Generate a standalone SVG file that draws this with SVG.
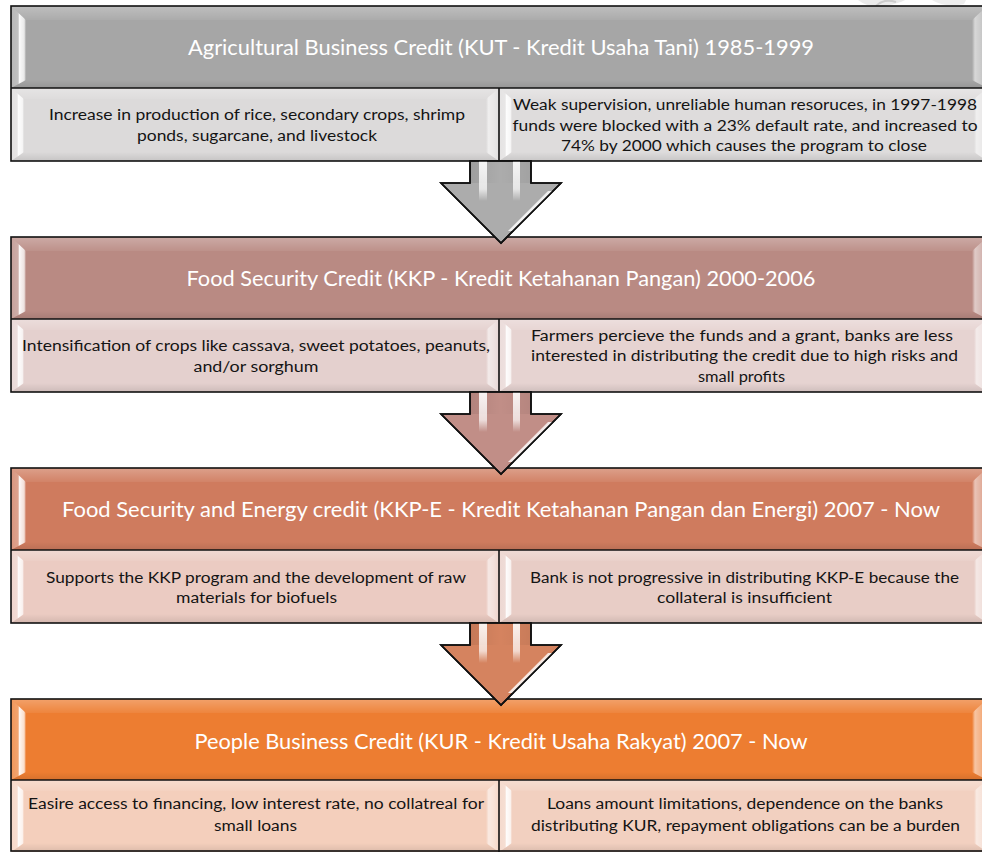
<svg xmlns="http://www.w3.org/2000/svg" xmlns:xlink="http://www.w3.org/1999/xlink" width="982" height="852" viewBox="0 0 982 852">
  <style>
    .edge { fill: none; stroke: #111; stroke-width: 1.6; }
    .hdr { font-family: Lato, "Open Sans", "Liberation Sans", sans-serif; font-size: 20.5px; fill: #ffffff; text-anchor: middle; }
    .sub { font-family: Lato, "Open Sans", "Liberation Sans", sans-serif; font-size: 15.5px; fill: #141414; text-anchor: middle; }
    .bl { fill: url(#bvL); }
    .br { fill: url(#bvR); }
    .bt { fill: url(#bvT); }
    .bb { fill: url(#bvB); }
    .arrow { stroke: #111; stroke-width: 1.6; stroke-linejoin: miter; }
    .stripe { fill: url(#stripeFade); }
    .gloss { fill: url(#glossFade); }
  </style>
  <defs>
    <!-- bevel strips: inner edge at 0, outer edge at 1 for the side strips -->
    <linearGradient id="bvL" x1="1" y1="0" x2="0" y2="0">
      <stop offset="0" stop-color="#fff" stop-opacity="0"/>
      <stop offset="0.12" stop-color="#fff" stop-opacity="0.75"/>
      <stop offset="0.45" stop-color="#fff" stop-opacity="0.95"/>
      <stop offset="0.52" stop-color="#fff" stop-opacity="0.3"/>
      <stop offset="1" stop-color="#fff" stop-opacity="0.2"/>
    </linearGradient>
    <linearGradient id="bvR" x1="0" y1="0" x2="1" y2="0">
      <stop offset="0" stop-color="#fff" stop-opacity="0"/>
      <stop offset="0.2" stop-color="#fff" stop-opacity="0.55"/>
      <stop offset="0.6" stop-color="#fff" stop-opacity="0.4"/>
      <stop offset="1" stop-color="#fff" stop-opacity="0.15"/>
    </linearGradient>
    <linearGradient id="bvT" x1="0" y1="0" x2="0" y2="1">
      <stop offset="0" stop-color="#fff" stop-opacity="0.28"/>
      <stop offset="1" stop-color="#fff" stop-opacity="0.06"/>
    </linearGradient>
    <linearGradient id="bvB" x1="0" y1="0" x2="0" y2="1">
      <stop offset="0" stop-color="#000" stop-opacity="0"/>
      <stop offset="1" stop-color="#000" stop-opacity="0.1"/>
    </linearGradient>
    <linearGradient id="stripeFade" x1="0" y1="0" x2="0" y2="1">
      <stop offset="0" stop-color="#fff" stop-opacity="0.9"/>
      <stop offset="0.7" stop-color="#fff" stop-opacity="0.7"/>
      <stop offset="1" stop-color="#fff" stop-opacity="0"/>
    </linearGradient>
    <linearGradient id="glossFade" x1="0" y1="0" x2="1" y2="1">
      <stop offset="0" stop-color="#fff" stop-opacity="0"/>
      <stop offset="0.5" stop-color="#fff" stop-opacity="0.85"/>
      <stop offset="1" stop-color="#fff" stop-opacity="0"/>
    </linearGradient>
    <linearGradient id="shaftShade" x1="0" y1="0" x2="1" y2="0">
      <stop offset="0" stop-color="#000" stop-opacity="0.08"/>
      <stop offset="0.5" stop-color="#000" stop-opacity="0"/>
      <stop offset="1" stop-color="#000" stop-opacity="0.06"/>
    </linearGradient>
    <!-- block arrow, drawn from y=0 at the bottom edge of the block above -->
    <path id="arrowShape" d="M470,0 L531,0 L531,22 L561,22 L501,82 L441,22 L470,22 Z"/>
    <g id="arrowShine">
      <rect x="470" y="0" width="61" height="22" fill="url(#shaftShade)"/>
      <rect x="479" y="0" width="8" height="40" class="stripe"/>
      <rect x="513" y="0" width="7" height="40" class="stripe"/>
      <polygon points="548,30 553,30 514,70 508,70" class="gloss"/>
    </g>
  </defs>

  <rect width="982" height="852" fill="#ffffff"/>

  <!-- faint logo behind the top edge -->
  <g opacity="0.5">
    <path d="M858,0 Q870,9 885,6 Q900,3 905,0 Z" fill="#d6d6d6"/>
    <path d="M876,6 Q884,-2 896,2" fill="none" stroke="#9a9a9a" stroke-width="2"/>
    <path d="M932,0 Q945,8 964,4 L966,0 Z" fill="#dcdcdc"/>
  </g>

  <!-- Block 1 : KUT -->
  <g id="kut">
    <rect x="11" y="6" width="976" height="82" fill="#a6a6a6"/>
    <rect x="11" y="88" width="488" height="73" fill="#dcdada"/>
    <rect x="499" y="88" width="488" height="73" fill="#dedcdc"/>
    <g>
      <polygon class="bt" points="11,6 987,6 972,20 26,20"/>
      <polygon class="bb" points="11,88 26,80 972,80 987,88"/>
      <polygon class="bl" points="11,6 26,20 26,80 11,88"/>
      <polygon class="br" points="987,6 987,88 972,80 972,20"/>
      <polygon class="bt" points="11,88 499,88 486,99 24,99"/>
      <polygon class="bb" points="11,161 24,152 486,152 499,161"/>
      <polygon class="bl" points="11,88 24,99 24,152 11,161"/>
      <polygon class="br" points="499,88 499,161 486,152 486,99"/>
      <polygon class="bt" points="499,88 987,88 974,99 512,99"/>
      <polygon class="bb" points="499,161 512,152 974,152 987,161"/>
      <polygon class="bl" points="499,88 512,99 512,152 499,161"/>
      <polygon class="br" points="987,88 987,161 974,152 974,99"/>
    </g>
    <rect class="edge" x="11" y="6" width="976" height="155"/>
    <line class="edge" x1="11" y1="88" x2="987" y2="88"/>
    <line class="edge" x1="499" y1="88" x2="499" y2="161"/>
    <text class="hdr" x="501" y="55" textLength="626" lengthAdjust="spacingAndGlyphs">Agricultural Business Credit (KUT - Kredit Usaha Tani) 1985-1999</text>
    <text class="sub" x="257" y="119.5" textLength="416" lengthAdjust="spacingAndGlyphs">Increase in production of rice, secondary crops, shrimp</text>
    <text class="sub" x="257" y="140.5" textLength="240" lengthAdjust="spacingAndGlyphs">ponds, sugarcane, and livestock</text>
    <text class="sub" x="745" y="109.5" textLength="464" lengthAdjust="spacingAndGlyphs">Weak supervision, unreliable human resoruces, in 1997-1998</text>
    <text class="sub" x="745" y="130.5" textLength="465" lengthAdjust="spacingAndGlyphs">funds were blocked with a 23% default rate, and increased to</text>
    <text class="sub" x="744" y="150.5" textLength="366" lengthAdjust="spacingAndGlyphs">74% by 2000 which causes the program to close</text>
  </g>

  <!-- Block 2 : KKP -->
  <g id="kkp">
    <rect x="11" y="237" width="976" height="82" fill="#b98a83"/>
    <rect x="11" y="319" width="488" height="73" fill="#e4d0ce"/>
    <rect x="499" y="319" width="488" height="73" fill="#e6d3d1"/>
    <g>
      <polygon class="bt" points="11,237 987,237 972,251 26,251"/>
      <polygon class="bb" points="11,319 26,311 972,311 987,319"/>
      <polygon class="bl" points="11,237 26,251 26,311 11,319"/>
      <polygon class="br" points="987,237 987,319 972,311 972,251"/>
      <polygon class="bt" points="11,319 499,319 486,330 24,330"/>
      <polygon class="bb" points="11,392 24,383 486,383 499,392"/>
      <polygon class="bl" points="11,319 24,330 24,383 11,392"/>
      <polygon class="br" points="499,319 499,392 486,383 486,330"/>
      <polygon class="bt" points="499,319 987,319 974,330 512,330"/>
      <polygon class="bb" points="499,392 512,383 974,383 987,392"/>
      <polygon class="bl" points="499,319 512,330 512,383 499,392"/>
      <polygon class="br" points="987,319 987,392 974,383 974,330"/>
    </g>
    <rect class="edge" x="11" y="237" width="976" height="155"/>
    <line class="edge" x1="11" y1="319" x2="987" y2="319"/>
    <line class="edge" x1="499" y1="319" x2="499" y2="392"/>
    <text class="hdr" x="501" y="286" textLength="629" lengthAdjust="spacingAndGlyphs">Food Security Credit (KKP - Kredit Ketahanan Pangan) 2000-2006</text>
    <text class="sub" x="256" y="350.5" textLength="468" lengthAdjust="spacingAndGlyphs">Intensification of crops like cassava, sweet potatoes, peanuts,</text>
    <text class="sub" x="256" y="371.5" textLength="125" lengthAdjust="spacingAndGlyphs">and/or sorghum</text>
    <text class="sub" x="742" y="340.5" textLength="422" lengthAdjust="spacingAndGlyphs">Farmers percieve the funds and a grant, banks are less</text>
    <text class="sub" x="744.5" y="360.5" textLength="427" lengthAdjust="spacingAndGlyphs">interested in distributing the credit due to high risks and</text>
    <text class="sub" x="741.5" y="381.5" textLength="87" lengthAdjust="spacingAndGlyphs">small profits</text>
  </g>

  <!-- Block 3 : KKP-E -->
  <g id="kkpe">
    <rect x="11" y="468" width="976" height="82" fill="#cf7b5e"/>
    <rect x="11" y="550" width="488" height="73" fill="#ebcbc2"/>
    <rect x="499" y="550" width="488" height="73" fill="#e8cdc6"/>
    <g>
      <polygon class="bt" points="11,468 987,468 972,482 26,482"/>
      <polygon class="bb" points="11,550 26,542 972,542 987,550"/>
      <polygon class="bl" points="11,468 26,482 26,542 11,550"/>
      <polygon class="br" points="987,468 987,550 972,542 972,482"/>
      <polygon class="bt" points="11,550 499,550 486,561 24,561"/>
      <polygon class="bb" points="11,623 24,614 486,614 499,623"/>
      <polygon class="bl" points="11,550 24,561 24,614 11,623"/>
      <polygon class="br" points="499,550 499,623 486,614 486,561"/>
      <polygon class="bt" points="499,550 987,550 974,561 512,561"/>
      <polygon class="bb" points="499,623 512,614 974,614 987,623"/>
      <polygon class="bl" points="499,550 512,561 512,614 499,623"/>
      <polygon class="br" points="987,550 987,623 974,614 974,561"/>
    </g>
    <rect class="edge" x="11" y="468" width="976" height="155"/>
    <line class="edge" x1="11" y1="550" x2="987" y2="550"/>
    <line class="edge" x1="499" y1="550" x2="499" y2="623"/>
    <text class="hdr" x="501" y="517" textLength="878" lengthAdjust="spacingAndGlyphs">Food Security and Energy credit (KKP-E - Kredit Ketahanan Pangan dan Energi) 2007 - Now</text>
    <text class="sub" x="256" y="582.5" textLength="420" lengthAdjust="spacingAndGlyphs">Supports the KKP program and the development of raw</text>
    <text class="sub" x="256.5" y="602.5" textLength="161" lengthAdjust="spacingAndGlyphs">materials for biofuels</text>
    <text class="sub" x="744.5" y="582.5" textLength="429" lengthAdjust="spacingAndGlyphs">Bank is not progressive in distributing KKP-E because the</text>
    <text class="sub" x="744.5" y="602.5" textLength="175" lengthAdjust="spacingAndGlyphs">collateral is insufficient</text>
  </g>

  <!-- Block 4 : KUR -->
  <g id="kur">
    <rect x="11" y="699" width="976" height="81" fill="#ed7d31"/>
    <rect x="11" y="780" width="488" height="72" fill="#f4cfbc"/>
    <rect x="499" y="780" width="488" height="72" fill="#f2d0c0"/>
    <g>
      <polygon class="bt" points="11,699 987,699 972,713 26,713"/>
      <polygon class="bb" points="11,780 26,772 972,772 987,780"/>
      <polygon class="bl" points="11,699 26,713 26,772 11,780"/>
      <polygon class="br" points="987,699 987,780 972,772 972,713"/>
      <polygon class="bt" points="11,780 499,780 486,791 24,791"/>
      <polygon class="bb" points="11,852 24,843 486,843 499,852"/>
      <polygon class="bl" points="11,780 24,791 24,843 11,852"/>
      <polygon class="br" points="499,780 499,852 486,843 486,791"/>
      <polygon class="bt" points="499,780 987,780 974,791 512,791"/>
      <polygon class="bb" points="499,852 512,843 974,843 987,852"/>
      <polygon class="bl" points="499,780 512,791 512,843 499,852"/>
      <polygon class="br" points="987,780 987,852 974,843 974,791"/>
    </g>
    <rect class="edge" x="11" y="699" width="976" height="152"/>
    <line class="edge" x1="11" y1="780" x2="987" y2="780"/>
    <line class="edge" x1="499" y1="780" x2="499" y2="852"/>
    <text class="hdr" x="501" y="749" textLength="613" lengthAdjust="spacingAndGlyphs">People Business Credit (KUR - Kredit Usaha Rakyat) 2007 - Now</text>
    <text class="sub" x="256" y="808.5" textLength="456" lengthAdjust="spacingAndGlyphs">Easire access to financing, low interest rate, no collatreal for</text>
    <text class="sub" x="255.5" y="830.5" textLength="83" lengthAdjust="spacingAndGlyphs">small loans</text>
    <text class="sub" x="745" y="808.5" textLength="396" lengthAdjust="spacingAndGlyphs">Loans amount limitations, dependence on the banks</text>
    <text class="sub" x="745.5" y="830.5" textLength="429" lengthAdjust="spacingAndGlyphs">distributing KUR, repayment obligations can be a burden</text>
  </g>

  <!-- connectors: block arrows between the programmes -->
  <g id="connectors">
    <g transform="translate(0,161)">
      <use xlink:href="#arrowShape" class="arrow" fill="#acacac"/>
      <use xlink:href="#arrowShine"/>
      <use xlink:href="#arrowShape" fill="none" class="arrow"/>
    </g>
    <g transform="translate(0,392)">
      <use xlink:href="#arrowShape" class="arrow" fill="#c18e87"/>
      <use xlink:href="#arrowShine"/>
      <use xlink:href="#arrowShape" fill="none" class="arrow"/>
    </g>
    <g transform="translate(0,623)">
      <use xlink:href="#arrowShape" class="arrow" fill="#d5835f"/>
      <use xlink:href="#arrowShine"/>
      <use xlink:href="#arrowShape" fill="none" class="arrow"/>
    </g>
  </g>
</svg>
